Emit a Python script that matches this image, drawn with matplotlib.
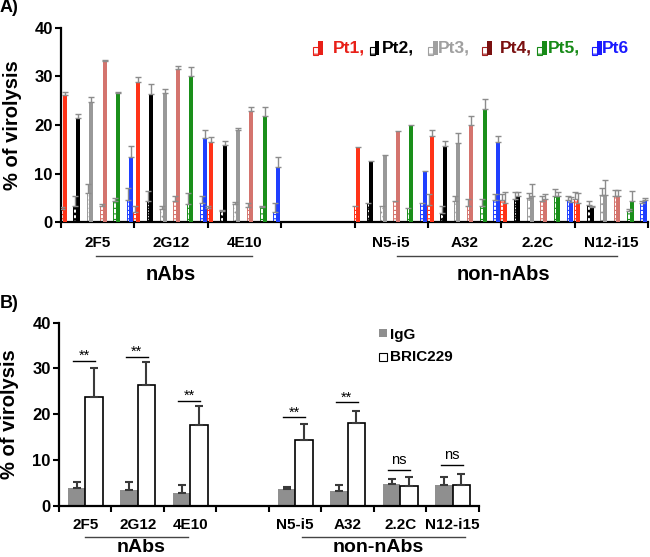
import numpy as np
import matplotlib
matplotlib.use("Agg")
import matplotlib.pyplot as plt
from matplotlib.patches import Rectangle

plt.rcParams['font.family'] = ['Liberation Sans', 'DejaVu Sans']
plt.rcParams['hatch.linewidth'] = 0.8

# ---------------- data ----------------
categories = ["2F5", "2G12", "4E10", "N5-i5", "A32", "2.2C", "N12-i15"]
cat_slots = [0, 1, 2, 4, 5, 6, 7]          # slot 3 left empty between groups
groups = ["nAbs", "non-nAbs"]
patients = ["Pt1", "Pt2", "Pt3", "Pt4", "Pt5", "Pt6"]

nan = np.nan
# Panel A: hatched bars (IgG) and solid bars (BRIC229) per patient
igg_pt1 = [2.6, 2.1, 2.9, 3.4, 3.6, 4.6, 4.7]
igg_pt2 = [3.4, 4.4, 2.2, 3.9, 1.9, 4.8, 3.6]
igg_pt3 = [6.0, 2.7, 3.8, 3.2, 4.4, 4.9, 5.6]
igg_pt4 = [3.2, 4.3, 3.0, 4.4, 3.2, 4.4, 5.4]
igg_pt5 = [4.3, 3.7, 3.0, 2.9, 3.4, 5.4, 2.3]
igg_pt6 = [4.6, 3.9, 2.1, 3.9, 4.5, 4.6, 3.9]
igg_err_pt1 = [0.4, 1.3, 0.3, nan, 2.2, 1.1, 1.4]
igg_err_pt2 = [1.9, 2.0, 0.3, nan, 1.5, 1.3, 0.7]
igg_err_pt3 = [1.9, 0.5, 0.3, nan, 1.0, 1.0, 1.4]
igg_err_pt4 = [0.6, 1.0, 1.0, nan, 1.6, 1.0, 1.3]
igg_err_pt5 = [0.6, 2.3, 0.3, nan, 1.4, 1.4, 0.3]
igg_err_pt6 = [2.4, 1.4, 1.8, nan, 1.2, 0.7, 0.4]

bric_pt1 = [26.1, 28.9, 16.5, 15.4, 17.7, 3.9, 3.9]
bric_pt2 = [21.4, 26.4, 15.9, 12.6, 15.6, 5.3, 3.0]
bric_pt3 = [24.7, 26.6, 19.0, 13.9, 16.3, 5.4, 5.6]
bric_pt4 = [33.1, 31.5, 22.8, 18.7, 19.9, 4.7, 5.3]
bric_pt5 = [26.6, 30.0, 21.8, 19.9, 23.3, 5.3, 4.3]
bric_pt6 = [13.3, 17.4, 11.3, 10.6, 16.4, 4.2, 4.6]
bric_err_pt1 = [0.7, 1.0, 1.0, nan, 1.3, 2.3, 2.1]
bric_err_pt2 = [0.8, 2.0, 0.7, nan, 1.2, 0.9, 0.3]
bric_err_pt3 = [1.0, 0.9, 0.4, nan, 2.0, 2.5, 3.1]
bric_err_pt4 = [0.3, 0.7, 0.9, nan, 2.0, 1.0, 1.2]
bric_err_pt5 = [0.2, 1.9, 1.9, nan, 2.1, 0.8, 2.1]
bric_err_pt6 = [2.4, 1.5, 2.2, nan, 1.3, 1.0, 0.4]

# Panel B: means
igg_mean = [3.9, 3.4, 2.85, 3.6, 3.3, 4.7, 4.45]
igg_sd = [1.3, 1.8, 1.6, 0.4, 1.2, 1.1, 1.75]
bric_mean = [23.7, 26.4, 17.6, 14.3, 18.1, 4.4, 4.45]
bric_sd = [6.4, 5.1, 4.2, 3.5, 2.7, 1.9, 2.6]
sig_labels = ["**", "**", "**", "**", "**", "ns", "ns"]
sig_heights = [31.7, 32.6, 23.0, 19.4, 22.6, 7.9, 9.0]

# ---------------- style ----------------
bar_colors = ["#ff3318", "#000000", "#999999", "#d4746e", "#1a8f1a", "#1f3fff"]
legend_colors = ["#e82018", "#000000", "#a0a0a0", "#7a1010", "#178a17", "#1a1aff"]
hatches = ["----", "xxxxxx", "....", "----", "---", "----"]
err_col = "#8c8c8c"

igg_all = [igg_pt1, igg_pt2, igg_pt3, igg_pt4, igg_pt5, igg_pt6]
igg_err_all = [igg_err_pt1, igg_err_pt2, igg_err_pt3, igg_err_pt4, igg_err_pt5, igg_err_pt6]
bric_all = [bric_pt1, bric_pt2, bric_pt3, bric_pt4, bric_pt5, bric_pt6]
bric_err_all = [bric_err_pt1, bric_err_pt2, bric_err_pt3, bric_err_pt4, bric_err_pt5, bric_err_pt6]

W, H = 650, 557
fig = plt.figure(figsize=(W / 100, H / 100), dpi=100)

def fx(x):
    return x / W

def fy(y):
    return 1 - y / H

def style_axes(ax):
    ax.set_xlim(0, 8)
    ax.set_ylim(0, 40)
    ax.set_yticks([0, 10, 20, 30, 40])
    ax.set_xticks(range(9))
    ax.set_xticklabels([])
    for s in ["top", "right"]:
        ax.spines[s].set_visible(False)
    for s in ["left", "bottom"]:
        ax.spines[s].set_linewidth(1.6)
    ax.tick_params(axis="both", direction="out", length=4, width=1.5)
    ax.tick_params(axis="y", pad=2)
    for lab in ax.get_yticklabels():
        lab.set_fontweight("bold")
        lab.set_fontsize(12)

# ---------------- Panel A ----------------
axA = fig.add_axes([fx(61), fy(222), fx(648) - fx(61), (222 - 28) / H])
style_axes(axA)
slots = np.array(cat_slots, dtype=float)
for i in range(6):
    xs = slots + 0.05 + i * 0.1814
    xh = xs - 0.041
    axA.bar(xh, igg_all[i], width=0.045, color="white", edgecolor=bar_colors[i],
            hatch=hatches[i], linewidth=0.7, zorder=2)
    axA.bar(xs, bric_all[i], width=0.055, color=bar_colors[i], linewidth=0, zorder=3)
    ie = np.array(igg_err_all[i])
    be = np.array(bric_err_all[i])
    axA.errorbar(xh, igg_all[i], yerr=[np.zeros_like(ie), ie], fmt="none",
                 ecolor=err_col, elinewidth=1, capsize=2, capthick=1, zorder=4)
    axA.errorbar(xs, bric_all[i], yerr=[np.zeros_like(be), be], fmt="none",
                 ecolor=err_col, elinewidth=1, capsize=2, capthick=1, zorder=4)

for s, name in zip(cat_slots, categories):
    axA.annotate(name, xy=(s + 0.5, 0), xycoords=("data", "axes fraction"),
                 xytext=(0, -15), textcoords="offset points", ha="center",
                 va="center", fontsize=11, fontweight="bold")

# group underlines and names panel A
trA = axA.get_xaxis_transform()
axA.plot([0.48, 2.6], [-34 / 194] * 2, transform=trA, color="#444444", lw=1, clip_on=False)
axA.plot([4.58, 7.58], [-34 / 194] * 2, transform=trA, color="#444444", lw=1, clip_on=False)
axA.text(1.49, -53 / 194, groups[0], transform=trA, ha="center", va="center",
         fontsize=14.5, fontweight="bold")
axA.text(6.03, -53 / 194, groups[1], transform=trA, ha="center", va="center",
         fontsize=14.5, fontweight="bold")

fig.text(fx(13), fy(125), "% of virolysis", rotation=90, ha="center", va="center",
         fontsize=14.5, fontweight="bold")
fig.text(fx(0), fy(8), "A)", ha="left", va="center", fontsize=13, fontweight="bold")

# legend panel A (manual)
icon_x = [313, 370, 428, 482, 537, 592]
text_x = [333, 382, 438, 500, 548, 602]
for i, p in enumerate(patients):
    x0 = icon_x[i]
    fig.add_artist(Rectangle((fx(x0), fy(55)), 4.5 / W, 8 / H, transform=fig.transFigure,
                             facecolor="white", edgecolor=legend_colors[i] if i != 3 else "#a02020",
                             lw=0.8, hatch="--"))
    fig.add_artist(Rectangle((fx(x0 + 5), fy(55)), 4.5 / W, 13.5 / H, transform=fig.transFigure,
                             facecolor=legend_colors[i], edgecolor="none"))
    label = p + ("," if i < 5 else "")
    fig.text(fx(text_x[i]), fy(52.7), label, ha="left", va="baseline", fontsize=12.5,
             fontweight="bold", color=legend_colors[i])

# ---------------- Panel B ----------------
axB = fig.add_axes([fx(59), fy(505.8), fx(479) - fx(59), (505.8 - 322.7) / H])
style_axes(axB)
xc = slots + 0.5
axB.bar(xc - 0.165, igg_mean, width=0.33, color="#8f8f8f", linewidth=0, zorder=2)
axB.bar(xc + 0.165, bric_mean, width=0.33, color="white", edgecolor="black", linewidth=1.2, zorder=2)
axB.errorbar(xc - 0.165, igg_mean, yerr=[np.zeros(len(igg_sd)), igg_sd], fmt="none",
             ecolor="#3a3a3a", elinewidth=1.5, capsize=3, capthick=1.5, zorder=3)
axB.errorbar(xc + 0.165, bric_mean, yerr=[np.zeros(len(bric_sd)), bric_sd], fmt="none",
             ecolor="#3a3a3a", elinewidth=1.5, capsize=3, capthick=1.5, zorder=3)

for s, lab, h in zip(cat_slots, sig_labels, sig_heights):
    axB.plot([s + 0.27, s + 0.69], [h, h], color="black", lw=1, zorder=3)
    if lab == "**":
        axB.text(s + 0.48, h + 0.1, lab, ha="center", va="baseline", fontsize=10.5)
    else:
        axB.text(s + 0.48, h + 1.3, lab, ha="center", va="baseline", fontsize=10.5)

for s, name in zip(cat_slots, categories):
    axB.annotate(name, xy=(s + 0.5, 0), xycoords=("data", "axes fraction"),
                 xytext=(0, -14), textcoords="offset points", ha="center",
                 va="center", fontsize=11, fontweight="bold")

trB = axB.get_xaxis_transform()
hB = 183.1
axB.plot([0.495, 2.457], [-31 / hB] * 2, transform=trB, color="#444444", lw=1, clip_on=False)
axB.plot([4.63, 7.73], [-31 / hB] * 2, transform=trB, color="#444444", lw=1, clip_on=False)
axB.text(1.56, -42 / hB, groups[0], transform=trB, ha="center", va="center",
         fontsize=14, fontweight="bold")
axB.text(6.08, -42 / hB, groups[1], transform=trB, ha="center", va="center",
         fontsize=14, fontweight="bold")

fig.text(fx(10), fy(414), "% of virolysis", rotation=90, ha="center", va="center",
         fontsize=14.5, fontweight="bold")
fig.text(fx(0), fy(303), "B)", ha="left", va="center", fontsize=13, fontweight="bold")

# legend panel B
fig.add_artist(Rectangle((fx(379), fy(337)), 7.5 / W, 8 / H, transform=fig.transFigure,
                         facecolor="#8f8f8f", edgecolor="none"))
fig.add_artist(Rectangle((fx(379), fy(361)), 7.5 / W, 8 / H, transform=fig.transFigure,
                         facecolor="white", edgecolor="black", lw=0.8))
fig.text(fx(390), fy(335), "IgG", ha="left", va="center", fontsize=11, fontweight="bold")
fig.text(fx(390), fy(357), "BRIC229", ha="left", va="center", fontsize=11, fontweight="bold")

fig.savefig("out.png", dpi=100)
